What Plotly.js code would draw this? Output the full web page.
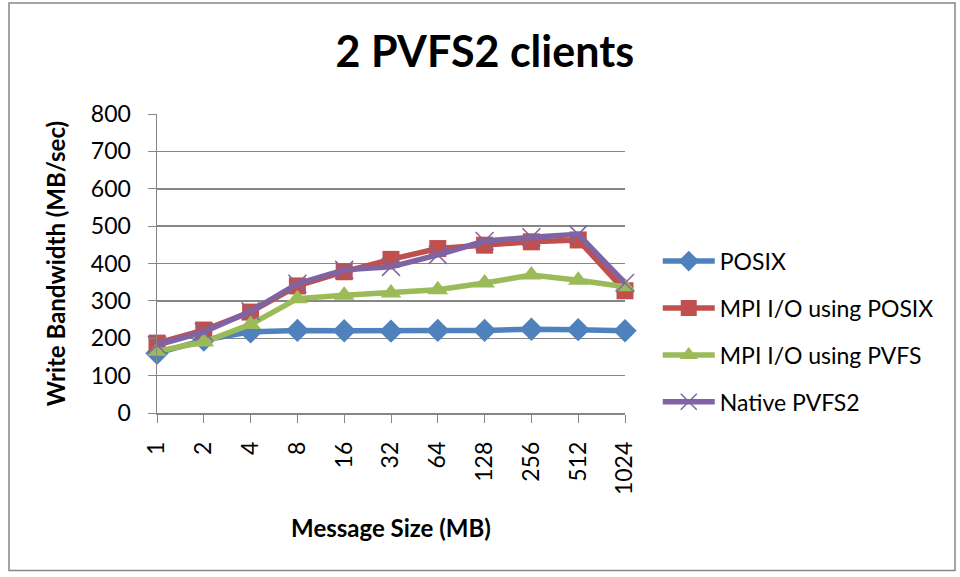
<!DOCTYPE html>
<html><head><meta charset="utf-8">
<script src="https://cdn.plot.ly/plotly-3.0.1.min.js"></script>
<style>html,body{margin:0;padding:0;background:#fff}#chart{width:960px;height:577px}</style>
</head><body><div id="chart"></div>
<script>
const sizes = ["1","2","4","8","16","32","64","128","256","512","1024"];
const posix = [160,195,217,221,220,219,221,221,224,223,220];
const mpiPosix = [187,222,270,340,378,411,440,449,458,463,327];
const mpiPvfs = [165,190,237,306,315,321,330,348,369,355,338];
const nativePvfs2 = [182,217,272,346,383,391,423,460,470,478,348];
const seriesNames = ["POSIX","MPI I/O using POSIX","MPI I/O using PVFS","Native PVFS2"];
const colors = ["#4F81BD","#C0504D","#9BBB59","#8064A2"];
const symbols = ["diamond","square","triangle-up","x-thin-open"];
const msizes = [18,17,18,18];
const allVals = [posix,mpiPosix,mpiPvfs,nativePvfs2];
const font = "Lato, 'Open Sans', sans-serif";
const traces = allVals.map((v,i)=>({
  x: sizes, y: v, name: seriesNames[i], type:'scatter', mode:'lines+markers',
  legendgroup: 'g'+i, cliponaxis:false,
  line:{color:colors[i], width:5.5},
  marker:{symbol:symbols[i], size:msizes[i], color:colors[i], line:{color:colors[i], width: i===3?1.5:0}}
}));
const layout = {
  width:960, height:577,
  margin:{l:157, r:335, t:114, b:164},
  paper_bgcolor:'#fff', plot_bgcolor:'#fff',
  font:{family:font, size:23, color:'#000'},
  title:{text:'<b>2 PVFS2 clients</b>', font:{size:43, family:font}, x:0.505, xanchor:'center', y:0.91, yanchor:'middle'},
  xaxis:{type:'category', range:[0,10], showgrid:false, showline:true, linecolor:'#868686', linewidth:1.5,
    ticks:'outside', ticklen:8, tickcolor:'#868686', tickangle:-90, tickfont:{size:23}, ticklabelstandoff:10,
    title:{text:'<b>Message Size (MB)</b>', font:{size:24}, standoff:26}, zeroline:false},
  yaxis:{range:[0,800], dtick:100, showgrid:true, gridcolor:'#868686', gridwidth:1.5, showline:true, linecolor:'#868686', linewidth:1.5,
    ticks:'outside', ticklen:8, tickcolor:'#868686', tickfont:{size:23}, zeroline:false, ticklabelstandoff:12,
    title:{text:'<b>Write Bandwidth (MB/sec)</b>', font:{size:24}, standoff:18}},
  showlegend:true,
  legend:{x:1.07, xanchor:'left', y:0.272, yanchor:'middle', font:{size:23}, tracegroupgap:14, itemwidth:52, bgcolor:'rgba(0,0,0,0)'},
  shapes:[{type:'rect', xref:'paper', yref:'paper', x0:(9-157)/468, x1:(955-157)/468, y0:(412.7-570)/298.7, y1:(412.7-3)/298.7, line:{color:'#868686', width:1.5}, fillcolor:'rgba(0,0,0,0)'}]
};
Plotly.newPlot('chart', traces, layout, {displayModeBar:false, staticPlot:true});
</script></body></html>
